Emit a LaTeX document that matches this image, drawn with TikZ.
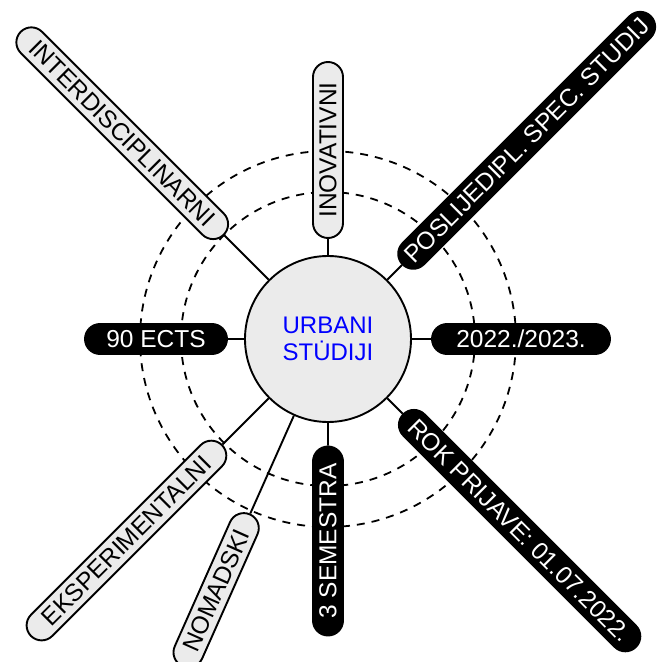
\documentclass[tikz,border=0pt]{standalone}
\usepackage{fontspec}
\setmainfont{Liberation Sans}
\usetikzlibrary{shapes.misc}

\begin{document}
\begin{tikzpicture}[
    hub/.style={circle, draw=black, fill=black!8, line width=1.9pt, minimum size=166pt, text=blue, align=center, font=\fontsize{24}{27}\selectfont},
    pillgray/.style={rounded rectangle, draw=black, fill=black!8, line width=1.9pt, minimum height=30pt, inner sep=0pt, font=\fontsize{24.5}{27}\selectfont},
    pillblack/.style={pillgray, fill=black, text=white},
    spoke/.style={line width=1.9pt},
    ring/.style={dash pattern=on 8pt off 7pt, line width=1.8pt}]

\useasboundingbox (-328pt,-323pt) rectangle (329pt,339pt);

% dashed rings
\draw[ring] (0,0) circle (147pt);
\draw[ring] (0,0) circle (188pt);

% centre
\node[hub] (urbani) at (0,0) {URBANI\\STU̇DIJI};

% upper spokes
\node[pillgray, minimum width=176pt, rotate=90] (inovativni) at (90:189pt) {INOVATIVNI};
\node[pillgray, minimum width=287pt, rotate=-45] (interdisc) at (135:291pt) {INTERDISCIPLINARNI};
\node[pillblack, minimum width=351pt, rotate=45] (poslijedipl) at (45:281pt) {POSLIJEDIPL. SPEC. STUDIJ};

% left and right
\node[pillblack, minimum width=142pt] (ects) at (180:172pt) {90 ECTS};
\node[pillblack, minimum width=178pt] (godina) at (0:193pt) {2022./2023.};

% lower spokes
\node[pillblack, minimum width=329pt, rotate=-45] (rok) at (-45:271pt) {ROK PRIJAVE: 01.07.2022.};
\node[pillblack, minimum width=189pt, rotate=90] (semestri) at (270:202pt) {3 SEMESTRA};
\node[pillgray, minimum width=270pt, rotate=45] (eksperim) at (225:285pt) {EKSPERIMENTALNI};
\node[pillgray, minimum width=166pt, rotate=66] (nomadski) at (246:275pt) {NOMADSKI};

\draw[spoke] (urbani) -- (inovativni);
\draw[spoke] (urbani) -- (interdisc);
\draw[spoke] (urbani) -- (poslijedipl);
\draw[spoke] (urbani) -- (ects);
\draw[spoke] (urbani) -- (godina);
\draw[spoke] (urbani) -- (rok);
\draw[spoke] (urbani) -- (semestri);
\draw[spoke] (urbani) -- (eksperim);
\draw[spoke] (urbani) -- (nomadski);

\end{tikzpicture}
\end{document}
